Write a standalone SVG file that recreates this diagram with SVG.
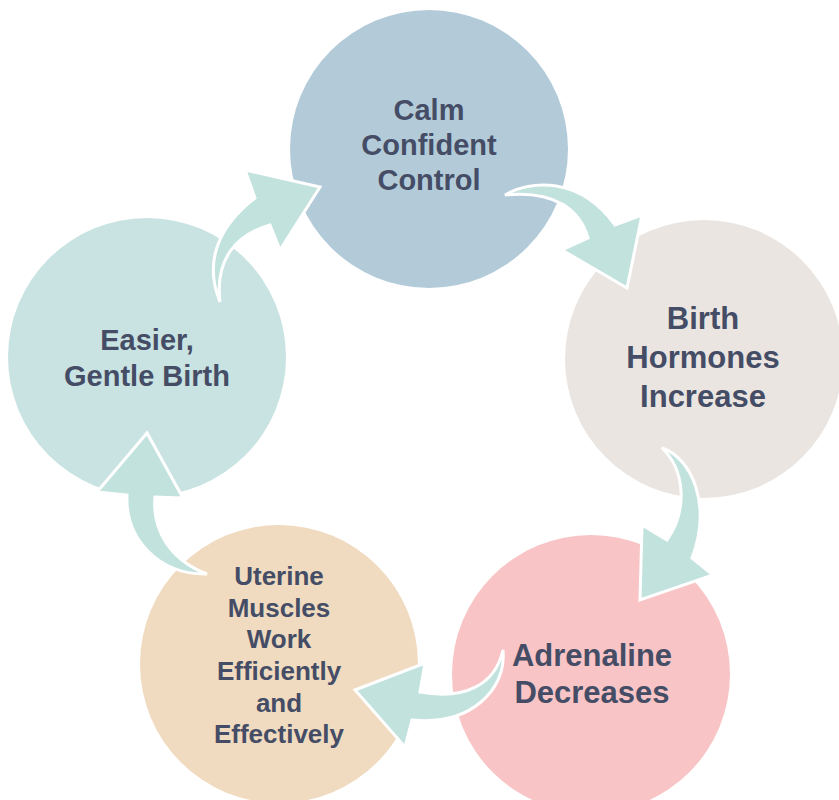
<svg xmlns="http://www.w3.org/2000/svg" width="839" height="800" viewBox="0 0 839 800">
<style>
.t{font-family:"Liberation Sans",Arial,sans-serif;font-weight:bold;fill:#454d66;text-anchor:middle}
.a{fill:#c2e2de;stroke:#ffffff;stroke-width:3;stroke-linejoin:miter}
</style>
<rect width="839" height="800" fill="#ffffff"/>
<g id="node-calm">
<circle cx="429" cy="149" r="139" fill="#b3cbd8"/>
<text class="t" font-size="29"><tspan x="429" y="120">Calm</tspan><tspan x="429" y="155">Confident</tspan><tspan x="429" y="190">Control</tspan></text>
</g>
<g id="node-hormones">
<circle cx="704" cy="359" r="139" fill="#ebe5e1"/>
<text class="t" font-size="31"><tspan x="703" y="329">Birth</tspan><tspan x="703" y="368">Hormones</tspan><tspan x="703" y="407">Increase</tspan></text>
</g>
<g id="node-adrenaline">
<circle cx="591" cy="674" r="139" fill="#f8c4c5"/>
<text class="t" font-size="31"><tspan x="592" y="666">Adrenaline</tspan><tspan x="592" y="703">Decreases</tspan></text>
</g>
<g id="node-uterine">
<circle cx="279" cy="664" r="139" fill="#f0dbc0"/>
<text class="t" font-size="26"><tspan x="279" y="585">Uterine</tspan><tspan x="279" y="617">Muscles</tspan><tspan x="279" y="648">Work</tspan><tspan x="279" y="680">Efficiently</tspan><tspan x="279" y="712">and</tspan><tspan x="279" y="743">Effectively</tspan></text>
</g>
<g id="node-easier">
<circle cx="147" cy="357" r="139" fill="#c8e3e1"/>
<text class="t" font-size="29"><tspan x="147" y="350">Easier,</tspan><tspan x="147" y="386">Gentle Birth</tspan></text>
</g>
<g id="connectors">
<path class="a" d="M505,195 C530,180 580,176 615,225 L642,215 L627,288 L562,250 L588,238 C580,210 555,190 505,195 Z"/>
<path class="a" d="M662,448 C692,458 712,505 692,558 L713,575 L640,600 L642,525 L667,540 C688,510 685,470 662,448 Z"/>
<path class="a" d="M503,650 C507,690 470,726 412,720 L405,747 L355,690 L425,663 L420,692 C465,700 495,685 503,650 Z"/>
<path class="a" d="M207,574 C160,575 125,540 127,495 L97,492 L147,433 L183,498 L155,497 C152,530 170,560 207,574 Z"/>
<path class="a" d="M220,302 C203,260 220,225 255,198 L245,170 L320,187 L280,250 L270,225 C235,235 215,260 220,302 Z"/>
</g>
</svg>
